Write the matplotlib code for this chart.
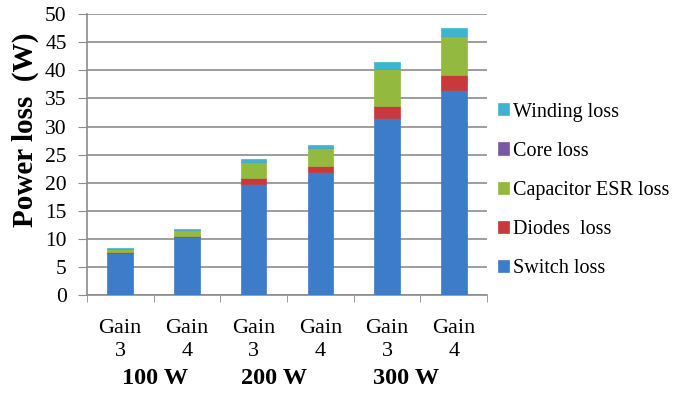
import numpy as np
import matplotlib
matplotlib.use("Agg")
import matplotlib.pyplot as plt

plt.rcParams['font.family'] = ['Liberation Serif', 'DejaVu Serif']

categories = ["Gain\n3", "Gain\n4", "Gain\n3", "Gain\n4", "Gain\n3", "Gain\n4"]
groups = ["100 W", "200 W", "300 W"]
switch_loss = [7.5, 10.3, 19.7, 21.9, 31.5, 36.5]
diodes_loss = [0.2, 0.2, 1.1, 1.1, 2.1, 2.6]
capacitor_loss = [0.5, 1.1, 2.9, 3.2, 6.6, 7.0]
core_loss = [0.05, 0.05, 0.05, 0.05, 0.05, 0.05]
winding_loss = [0.1, 0.2, 0.45, 0.45, 1.25, 1.35]

series = [
    ("Switch loss", switch_loss, "#3d7cc9"),
    ("Diodes  loss", diodes_loss, "#c9383a"),
    ("Capacitor ESR loss", capacitor_loss, "#93b93e"),
    ("Core loss", core_loss, "#7a58a8"),
    ("Winding loss", winding_loss, "#3fb4d0"),
]

# where the group captions sit (in category units)
group_x = [0.52, 2.30, 4.28]

fig = plt.figure(figsize=(7, 3.94), dpi=100)
ax = fig.add_axes([0.124, 0.251, 0.572, 0.713])

x = np.arange(len(categories))
bottom = np.zeros(len(categories))
handles = []
for name, vals, color in series:
    b = ax.bar(x, vals, 0.38, bottom=bottom, color=color, label=name,
               edgecolor=color, linewidth=0.5, zorder=3)
    handles.append(b)
    bottom += np.array(vals)

ax.set_xlim(-0.5, len(categories) - 0.5)
ax.set_ylim(0, 50)
ax.set_yticks(np.arange(0, 51, 5))
ax.yaxis.grid(True, color="#8c8c8c", linewidth=1.2, zorder=0)
ax.tick_params(axis='y', labelsize=15.5, length=6.5, color="#8c8c8c", pad=8)
ax.set_xticks(x)
ax.set_xticklabels(categories, fontsize=16, linespacing=1.3)
ax.tick_params(axis='x', length=0, pad=17)
ax.set_xticks(np.arange(-0.5, len(categories), 1), minor=True)
ax.tick_params(axis='x', which='minor', length=5, color="#8c8c8c")
for s in ["top", "right"]:
    ax.spines[s].set_visible(False)
for s in ["left", "bottom"]:
    ax.spines[s].set_color("#8c8c8c")
    ax.spines[s].set_linewidth(1.2)

fig.text(25 / 700, 1 - 130 / 394, "Power loss  (W)", rotation=90,
         ha='center', va='center', fontsize=21, fontweight='bold')

for gx, g in zip(group_x, groups):
    ax.text(gx, -14.9, g, ha='center', va='center', fontsize=17.5,
            fontweight='bold', clip_on=False)

fig.legend(handles[::-1], [s[0] for s in series][::-1],
           loc='center left', bbox_to_anchor=(0.686, 0.517),
           frameon=False, fontsize=14.5, labelspacing=1.0,
           handlelength=0.55, handleheight=0.55, handletextpad=0.2)

fig.savefig("out.png", dpi=100)
